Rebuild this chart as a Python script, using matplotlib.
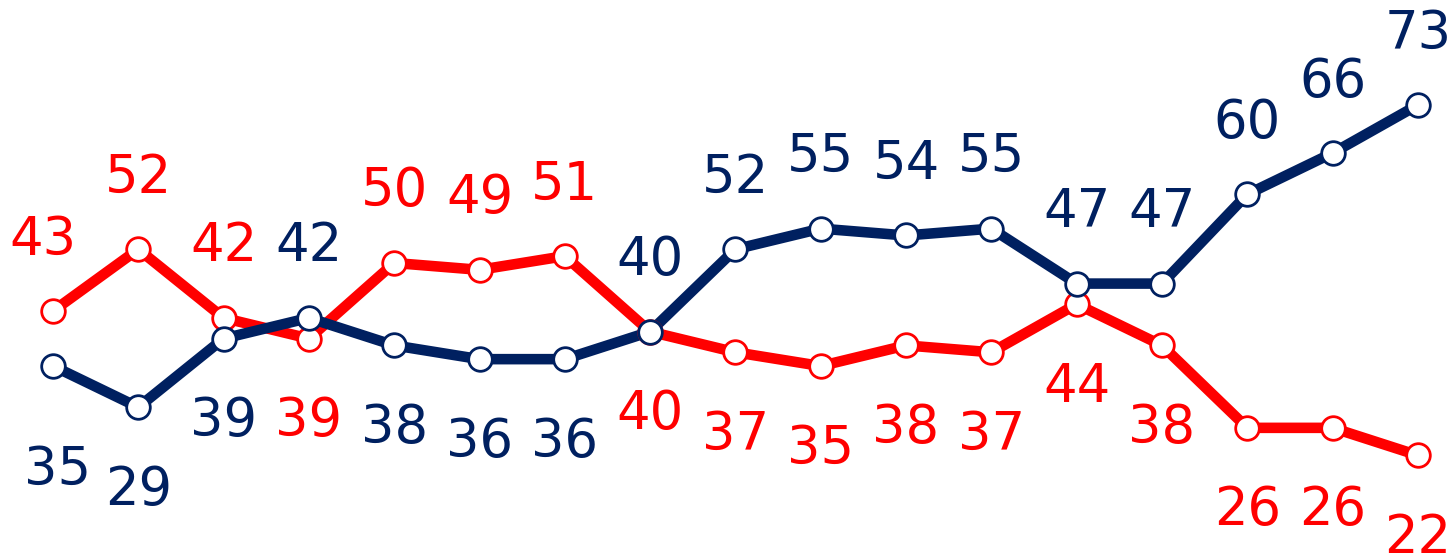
import matplotlib
matplotlib.use("Agg")
import matplotlib.pyplot as plt

red_values = [43, 52, 42, 39, 50, 49, 51, 40, 37, 35, 38, 37, 44, 38, 26, 26, 22]
blue_values = [35, 29, 39, 42, 38, 36, 36, 40, 52, 55, 54, 55, 47, 47, 60, 66, 73]

RED = "#FF0000"
BLUE = "#002060"

fig = plt.figure(figsize=(14.52, 5.57), dpi=100)
ax = fig.add_axes([0, 0, 1, 1])
ax.set_xlim(-0.621, 16.40)
ax.set_ylim(7.2, 88.28)
ax.axis("off")

x = list(range(len(red_values)))

ax.plot(x, red_values, color=RED, lw=7.6, zorder=2, solid_capstyle="round")
ax.plot(x, blue_values, color=BLUE, lw=7.6, zorder=3, solid_capstyle="round")
ax.plot(x, red_values, ls="none", marker="o", ms=17.0, mfc="white", mec=RED, mew=2.0, zorder=4)
ax.plot(x, blue_values, ls="none", marker="o", ms=17.0, mfc="white", mec=BLUE, mew=2.0, zorder=5)

UP = 51.5
DOWN = -59.5
# small manual label nudges (points) for crowded spots
red_adj = {0: (-7, 0)}
blue_adj = {0: (3, -15)}

for i, (r, b) in enumerate(zip(red_values, blue_values)):
    red_up = r > b
    blue_up = b >= r
    dx, dy = red_adj.get(i, (0, 0))
    ax.annotate(str(r), (i, r), xytext=(dx, (UP if red_up else DOWN) + dy),
                textcoords="offset points", ha="center", va="center",
                fontsize=38, color=RED, zorder=6)
    dx, dy = blue_adj.get(i, (0, 0))
    ax.annotate(str(b), (i, b), xytext=(dx, (UP if blue_up else DOWN) + dy),
                textcoords="offset points", ha="center", va="center",
                fontsize=38, color=BLUE, zorder=6)

fig.savefig("out.png", dpi=100)
